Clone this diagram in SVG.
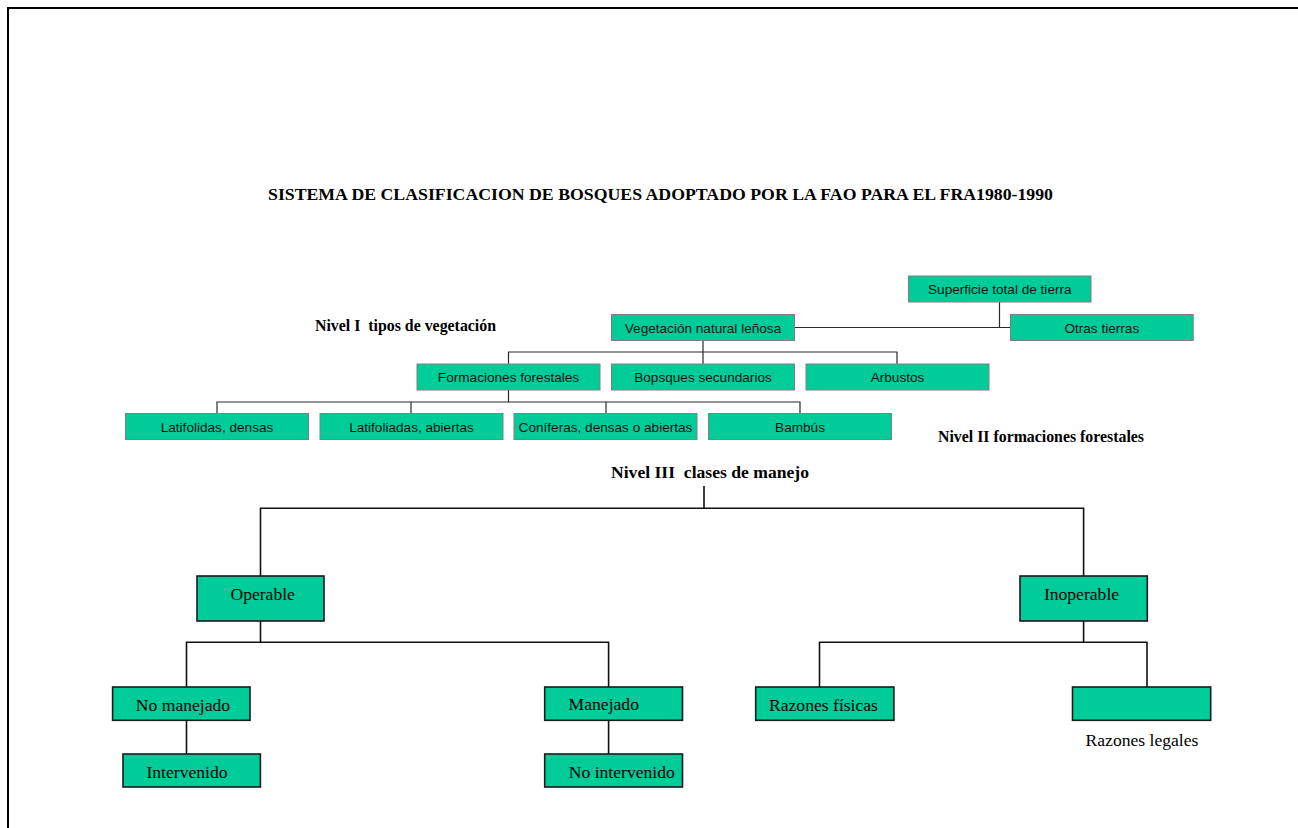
<svg xmlns="http://www.w3.org/2000/svg" width="1298" height="828" viewBox="0 0 1298 828">
  <style>
    .bg { fill: #ffffff; }
    .frame { fill: none; stroke: #000; stroke-width: 2; }
    .box-s { fill: #00cc99; stroke: #808080; stroke-width: 1; }
    .box-l { fill: #00cc99; stroke: #1a1a1a; stroke-width: 1.6; }
    .lbl-s { font-family: "Liberation Sans", Arial, sans-serif; font-size: 13.6px; fill: #111; text-anchor: middle; }
    .lbl-l { font-family: "Liberation Serif", "Times New Roman", serif; font-size: 17.6px; fill: #000; text-anchor: middle; }
    .head { font-family: "Liberation Serif", "Times New Roman", serif; font-weight: bold; fill: #000; white-space: pre; }
    .wire-s { fill: none; stroke: #2a2a2a; stroke-width: 1.2; }
    .wire-l { fill: none; stroke: #111; stroke-width: 1.6; }
  </style>

  <rect class="bg" x="0" y="0" width="1298" height="828"/>
  <path class="frame" d="M8 828 V8 H1298"/>

  <!-- headings -->
  <text class="head" x="268" y="200" font-size="17.5" textLength="785" lengthAdjust="spacingAndGlyphs">SISTEMA DE CLASIFICACION DE BOSQUES ADOPTADO POR LA FAO PARA EL FRA1980-1990</text>
  <text class="head" x="315" y="331" font-size="16" textLength="181" lengthAdjust="spacingAndGlyphs" xml:space="preserve">Nivel I  tipos de vegetación</text>
  <text class="head" x="938" y="442" font-size="16" textLength="206" lengthAdjust="spacingAndGlyphs">Nivel II formaciones forestales</text>
  <text class="head" x="611" y="478" font-size="17.6" textLength="198" lengthAdjust="spacingAndGlyphs" xml:space="preserve">Nivel III  clases de manejo</text>

  <!-- connectors -->
  <g id="connectors">
    <!-- level I -->
    <path class="wire-s" d="M999.5 302 V327.5 M794.5 327.5 H1010.5"/>
    <path class="wire-s" d="M703 340.5 V352 M508.5 364 V352 H897 V364 M703 352 V364"/>
    <!-- level II -->
    <path class="wire-s" d="M508.5 390 V402 M217 413 V402 H800 V413 M411 402 V413 M606 402 V413"/>
    <!-- level III -->
    <path class="wire-l" d="M704 486 V508.3 M260.5 576 V508.3 H1083.6 V576"/>
    <path class="wire-l" d="M260.5 621 V642.3 M186.5 687 V642.3 H608.6 V687"/>
    <path class="wire-l" d="M1083.6 621 V642.3 M819.5 687 V642.3 H1147 V687"/>
    <path class="wire-l" d="M186.5 720.3 V754 M608.6 720.3 V754"/>
  </g>

  <!-- level I nodes -->
  <g id="superficie">
    <rect class="box-s" x="908.5" y="276" width="182.5" height="26"/>
    <text class="lbl-s" x="999.8" y="294">Superficie total de tierra</text>
  </g>
  <g id="vegetacion">
    <rect class="box-s" x="611.5" y="314.5" width="183" height="26"/>
    <text class="lbl-s" x="703" y="332.5">Vegetación natural leñosa</text>
  </g>
  <g id="otras">
    <rect class="box-s" x="1010.5" y="314.5" width="182.7" height="26"/>
    <text class="lbl-s" x="1101.8" y="332.5">Otras tierras</text>
  </g>

  <!-- level II nodes -->
  <g id="formaciones">
    <rect class="box-s" x="417" y="364" width="183" height="26"/>
    <text class="lbl-s" x="508.5" y="382">Formaciones forestales</text>
  </g>
  <g id="secundarios">
    <rect class="box-s" x="611.5" y="364" width="183" height="26"/>
    <text class="lbl-s" x="703" y="382">Bopsques secundarios</text>
  </g>
  <g id="arbustos">
    <rect class="box-s" x="806" y="364" width="183" height="26"/>
    <text class="lbl-s" x="897.5" y="382">Arbustos</text>
  </g>

  <!-- forest formation types -->
  <g id="latifolidas">
    <rect class="box-s" x="125.5" y="413.5" width="183" height="26"/>
    <text class="lbl-s" x="217" y="431.5">Latifolidas, densas</text>
  </g>
  <g id="latifoliadas">
    <rect class="box-s" x="320" y="413.5" width="183" height="26"/>
    <text class="lbl-s" x="411.5" y="431.5">Latifoliadas, abiertas</text>
  </g>
  <g id="coniferas">
    <rect class="box-s" x="514" y="413.5" width="183" height="26"/>
    <text class="lbl-s" x="605.5" y="431.5">Coníferas, densas o abiertas</text>
  </g>
  <g id="bambus">
    <rect class="box-s" x="708.5" y="413.5" width="183" height="26"/>
    <text class="lbl-s" x="800" y="431.5">Bambús</text>
  </g>

  <!-- management classes -->
  <g id="operable">
    <rect class="box-l" x="197" y="576" width="127" height="45"/>
    <text class="lbl-l" x="262.7" y="600">Operable</text>
  </g>
  <g id="inoperable">
    <rect class="box-l" x="1020" y="576" width="127.3" height="45"/>
    <text class="lbl-l" x="1081.5" y="600">Inoperable</text>
  </g>
  <g id="no-manejado">
    <rect class="box-l" x="112.6" y="687" width="137.4" height="33.3"/>
    <text class="lbl-l" x="183" y="711">No manejado</text>
  </g>
  <g id="manejado">
    <rect class="box-l" x="544.7" y="687" width="137.8" height="33.3"/>
    <text class="lbl-l" x="603.8" y="709.5">Manejado</text>
  </g>
  <g id="intervenido">
    <rect class="box-l" x="123" y="754" width="137.4" height="33"/>
    <text class="lbl-l" x="187" y="778">Intervenido</text>
  </g>
  <g id="no-intervenido">
    <rect class="box-l" x="544.7" y="754" width="137.8" height="33"/>
    <text class="lbl-l" x="621.8" y="778">No intervenido</text>
  </g>
  <g id="razones-fisicas">
    <rect class="box-l" x="755.7" y="687" width="138.2" height="33.3"/>
    <text class="lbl-l" x="823.5" y="711">Razones físicas</text>
  </g>
  <g id="razones-legales">
    <rect class="box-l" x="1072.5" y="687" width="138.2" height="33.3"/>
    <text class="lbl-l" x="1142" y="746">Razones legales</text>
  </g>
</svg>
